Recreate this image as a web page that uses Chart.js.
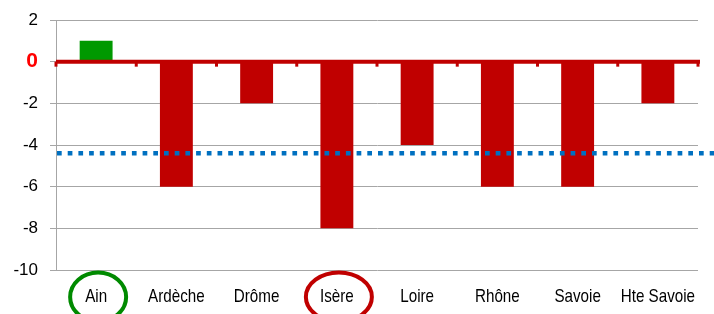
<!DOCTYPE html>
<html>
<head>
<meta charset="utf-8">
<script src="https://cdn.jsdelivr.net/npm/chart.js@4.4.1/dist/chart.umd.min.js"></script>
<style>
  html, body { margin: 0; padding: 0; background: #fff; }
  canvas { display: block; }
</style>
</head>
<body>
<canvas id="chart" width="714" height="314"></canvas>
<script>
const departements = ["Ain", "Ardèche", "Drôme", "Isère", "Loire", "Rhône", "Savoie", "Hte Savoie"];
const evolution = [1, -6, -2, -8, -4, -6, -6, -2];
const moyenne = -4.4;
const yTicks = [2, 0, -2, -4, -6, -8, -10];
const entoures = ["Ain", "Isère"];
const couleursEntoures = ["#008A00", "#C00000"];

const barColors = evolution.map(v => v >= 0 ? "#009900" : "#C00000");

const overlay = {
  id: "overlay",
  afterDatasetsDraw(c) {
    const ctx = c.ctx;
    const x = c.scales.x, y = c.scales.y;
    const area = c.chartArea;
    const y0 = y.getPixelForValue(0);

    // red zero line with small ticks between categories
    ctx.save();
    ctx.strokeStyle = "#C00000";
    ctx.lineWidth = 4;
    ctx.beginPath();
    ctx.moveTo(area.left, y0);
    ctx.lineTo(area.right + 2, y0);
    ctx.stroke();
    ctx.lineWidth = 3;
    const step = (area.right - area.left) / departements.length;
    for (let i = 0; i <= departements.length; i++) {
      const px = area.left + i * step;
      ctx.beginPath();
      ctx.moveTo(px, y0);
      ctx.lineTo(px, y0 + 5);
      ctx.stroke();
    }

    // blue dotted average line
    const ym = y.getPixelForValue(moyenne);
    ctx.strokeStyle = "#0070C0";
    ctx.lineWidth = 4.5;
    ctx.setLineDash([4.7, 6]);
    ctx.beginPath();
    ctx.moveTo(area.left + 1, ym);
    ctx.lineTo(c.width, ym);
    ctx.stroke();
    ctx.setLineDash([]);

    // category labels, condensed like Arial Narrow
    ctx.fillStyle = "#000";
    ctx.font = "19px 'Liberation Sans', Arial";
    ctx.textAlign = "center";
    ctx.textBaseline = "middle";
    departements.forEach((name, i) => {
      const cx = x.getPixelForValue(i);
      ctx.save();
      ctx.translate(cx, 297);
      ctx.scale(0.8, 1);
      ctx.fillText(name, 0, 0);
      ctx.restore();
    });

    // circles around highlighted labels
    ctx.lineWidth = 4;
    entoures.forEach((name, k) => {
      const i = departements.indexOf(name);
      const cx = x.getPixelForValue(i) + 2;
      const rx = name.length > 3 ? 33 : 28;
      ctx.strokeStyle = couleursEntoures[k];
      ctx.beginPath();
      ctx.ellipse(cx, 297, rx, 24.5, 0, 0, Math.PI * 2);
      ctx.stroke();
    });
    ctx.restore();
  }
};

new Chart(document.getElementById("chart"), {
  type: "bar",
  data: {
    labels: departements,
    datasets: [{
      data: evolution,
      backgroundColor: barColors,
      borderWidth: 0,
      barPercentage: 0.41,
      categoryPercentage: 1
    }]
  },
  options: {
    responsive: false,
    animation: false,
    devicePixelRatio: 1,
    layout: { padding: { top: 20, right: 16, left: 0, bottom: 0 } },
    plugins: { legend: { display: false }, tooltip: { enabled: false } },
    scales: {
      x: {
        grid: { display: false, drawTicks: false },
        border: { display: false },
        ticks: { display: false },
        afterFit(s) { s.height = 44; }
      },
      y: {
        min: -10,
        max: 2,
        afterBuildTicks(s) { s.ticks = yTicks.map(v => ({ value: v })); },
        grid: { color: "#A6A6A6", lineWidth: 1, tickLength: 6 },
        border: { color: "#A6A6A6", width: 1 },
        ticks: {
          padding: 12,
          color: ctx => ctx.tick.value === 0 ? "#FF0000" : "#000",
          font: ctx => ctx.tick && ctx.tick.value === 0
            ? { family: "'Liberation Sans', Arial", size: 21, weight: "bold" }
            : { family: "'Liberation Sans', Arial", size: 17 }
        },
        afterFit(s) {
          s.width = 56;
          s.paddingTop = 0;
          s.paddingBottom = 0;
        }
      }
    }
  },
  plugins: [overlay]
});
</script>
</body>
</html>
